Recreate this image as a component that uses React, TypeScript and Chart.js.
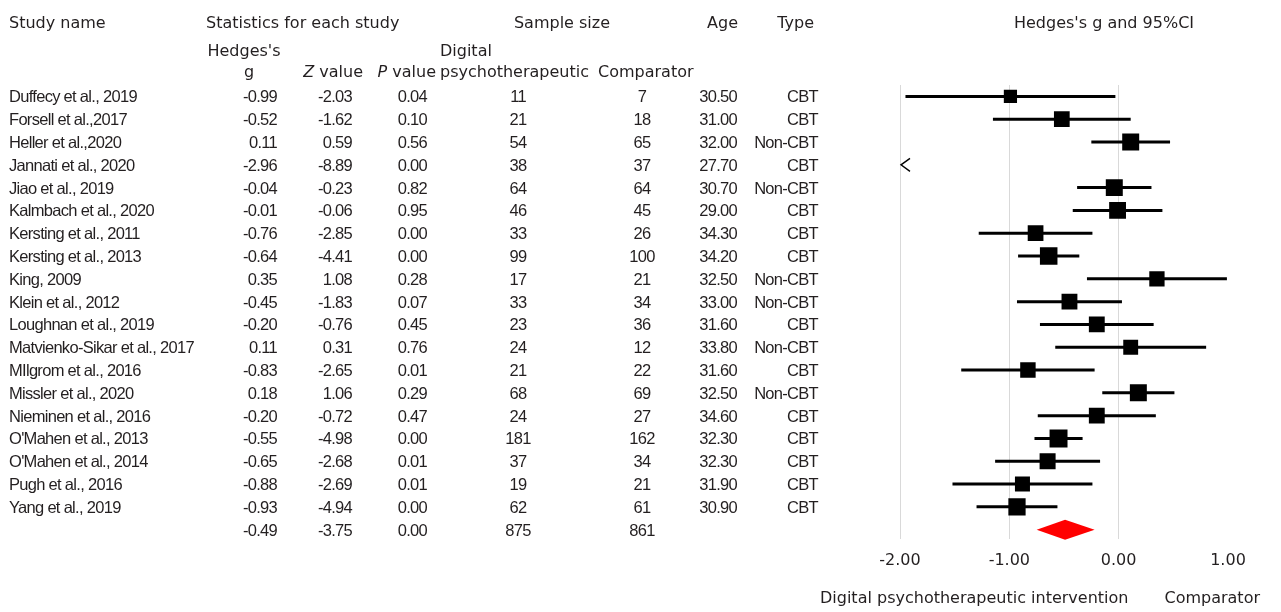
import { useEffect, useRef } from "react";
import { Chart, registerables } from "chart.js";

Chart.register(...registerables);

const studies = [
  "Duffecy et al., 2019",
  "Forsell et al.,2017",
  "Heller et al.,2020",
  "Jannati et al., 2020",
  "Jiao et al., 2019",
  "Kalmbach et al., 2020",
  "Kersting et al., 2011",
  "Kersting et al., 2013",
  "King, 2009",
  "Klein et al., 2012",
  "Loughnan et al., 2019",
  "Matvienko-Sikar et al., 2017",
  "MIlgrom et al., 2016",
  "Missler et al., 2020",
  "Nieminen et al., 2016",
  "O'Mahen et al., 2013",
  "O'Mahen et al., 2014",
  "Pugh et al., 2016",
  "Yang et al., 2019",
];
const hedgesG = [-0.99, -0.52, 0.11, -2.96, -0.04, -0.01, -0.76, -0.64, 0.35, -0.45, -0.2, 0.11, -0.83, 0.18, -0.2, -0.55, -0.65, -0.88, -0.93];
const zValues = [-2.03, -1.62, 0.59, -8.89, -0.23, -0.06, -2.85, -4.41, 1.08, -1.83, -0.76, 0.31, -2.65, 1.06, -0.72, -4.98, -2.68, -2.69, -4.94];
const pValues = [0.04, 0.1, 0.56, 0.0, 0.82, 0.95, 0.0, 0.0, 0.28, 0.07, 0.45, 0.76, 0.01, 0.29, 0.47, 0.0, 0.01, 0.01, 0.0];
const nDigital = [11, 21, 54, 38, 64, 46, 33, 99, 17, 33, 23, 24, 21, 68, 24, 181, 37, 19, 62];
const nComparator = [7, 18, 65, 37, 64, 45, 26, 100, 21, 34, 36, 12, 22, 69, 27, 162, 34, 21, 61];
const ages = [30.5, 31.0, 32.0, 27.7, 30.7, 29.0, 34.3, 34.2, 32.5, 33.0, 31.6, 33.8, 31.6, 32.5, 34.6, 32.3, 32.3, 31.9, 30.9];
const types = ["CBT", "CBT", "Non-CBT", "CBT", "Non-CBT", "CBT", "CBT", "CBT", "Non-CBT", "Non-CBT", "CBT", "Non-CBT", "CBT", "Non-CBT", "CBT", "CBT", "CBT", "CBT", "CBT"];
const ciLower = [-1.95, -1.15, -0.25, -3.61, -0.38, -0.42, -1.28, -0.92, -0.29, -0.93, -0.72, -0.58, -1.44, -0.15, -0.74, -0.77, -1.13, -1.52, -1.3];
const ciUpper = [-0.03, 0.11, 0.47, -2.31, 0.3, 0.4, -0.24, -0.36, 0.99, 0.03, 0.32, 0.8, -0.22, 0.51, 0.34, -0.33, -0.17, -0.24, -0.56];
const weights = [3.0, 4.8, 5.7, 5.0, 5.7, 5.6, 4.8, 6.1, 4.5, 4.9, 4.9, 4.2, 4.6, 5.7, 4.9, 6.4, 5.0, 4.3, 5.9];

const summaryG = -0.49;
const summaryZ = -3.75;
const summaryP = 0.0;
const summaryDigital = 875;
const summaryComparator = 861;
const summaryLower = -0.75;
const summaryUpper = -0.22;

const xTicks = [-2, -1, 0, 1];
const leftLabel = "Digital psychotherapeutic intervention";
const rightLabel = "Comparator";
const plotTitle = "Hedges's g and 95%CI";

const X_MIN = -2;
const X_MAX = 1;
const TEXT = "#231f20";
const HEAD_FONT = "16px 'DejaVu Sans'";
const DATA_FONT = "16.5px 'Liberation Sans'";

const sideFromWeight = (w: number) => 9 + w * 1.4;

const forestPlugin = {
  id: "forest",
  beforeDatasetsDraw(chart: any) {
    const ctx = chart.ctx as CanvasRenderingContext2D;
    const xs = chart.scales.x;
    const ys = chart.scales.y;
    ctx.save();
    ctx.strokeStyle = "#000";
    ctx.lineWidth = 3;
    for (let i = 0; i < studies.length; i++) {
      const y = ys.getPixelForValue(i);
      if (ciUpper[i] < X_MIN) {
        const x0 = xs.getPixelForValue(X_MIN);
        ctx.save();
        ctx.lineWidth = 1.4;
        ctx.beginPath();
        ctx.moveTo(x0 + 10, y - 6.5);
        ctx.lineTo(x0 + 1, y);
        ctx.lineTo(x0 + 10, y + 6.5);
        ctx.stroke();
        ctx.restore();
        continue;
      }
      const a = xs.getPixelForValue(Math.max(ciLower[i], X_MIN));
      const b = xs.getPixelForValue(Math.min(ciUpper[i], X_MAX));
      ctx.beginPath();
      ctx.moveTo(a, y);
      ctx.lineTo(b, y);
      ctx.stroke();
    }
    // summary diamond
    const yS = ys.getPixelForValue(studies.length);
    const l = xs.getPixelForValue(summaryLower);
    const r = xs.getPixelForValue(summaryUpper);
    const c = xs.getPixelForValue(summaryG);
    ctx.fillStyle = "#ff0000";
    ctx.beginPath();
    ctx.moveTo(l, yS);
    ctx.lineTo(c, yS - 10);
    ctx.lineTo(r, yS);
    ctx.lineTo(c, yS + 10);
    ctx.closePath();
    ctx.fill();
    ctx.restore();
  },
  afterDraw(chart: any) {
    const ctx = chart.ctx as CanvasRenderingContext2D;
    const ys = chart.scales.y;
    ctx.save();
    ctx.fillStyle = TEXT;
    ctx.textBaseline = "alphabetic";

    // headers
    (ctx as any).letterSpacing = "0px";
    ctx.font = HEAD_FONT;
    ctx.textAlign = "left";
    ctx.fillText("Study name", 9, 28);
    ctx.fillText("Statistics for each study", 206, 28);
    ctx.textAlign = "center";
    ctx.fillText("Sample size", 562, 28);
    ctx.textAlign = "right";
    ctx.fillText("Age", 738, 28);
    ctx.fillText("Type", 814, 28);
    ctx.textAlign = "center";
    ctx.fillText(plotTitle, 1104, 28);

    ctx.textAlign = "center";
    ctx.fillText("Hedges's", 244, 56);
    ctx.fillText("g", 249, 77);
    ctx.textAlign = "left";
    ctx.fillText("Digital", 440, 56);
    ctx.fillText("psychotherapeutic", 440, 77);
    ctx.fillText("Comparator", 598, 77);

    const italicLabel = (letter: string, rest: string, right: number) => {
      ctx.font = HEAD_FONT;
      const w = ctx.measureText(rest).width;
      ctx.textAlign = "right";
      ctx.fillText(rest, right, 77);
      ctx.font = "italic " + HEAD_FONT;
      ctx.fillText(letter, right - w, 77);
      ctx.font = HEAD_FONT;
    };
    italicLabel("Z", " value", 363);
    italicLabel("P", " value", 436);

    // axis direction labels
    ctx.textAlign = "left";
    ctx.fillText(leftLabel, 820, 603);
    ctx.textAlign = "right";
    ctx.fillText(rightLabel, 1260, 603);

    // data rows
    ctx.font = DATA_FONT;
    (ctx as any).letterSpacing = "-0.7px";
    const row = (i: number, cells: (string | null)[]) => {
      const y = ys.getPixelForValue(i) + 6;
      const [name, g, z, p, nd, nc, age, type] = cells;
      if (name) {
        ctx.textAlign = "left";
        ctx.fillText(name, 9, y);
      }
      ctx.textAlign = "right";
      if (g) ctx.fillText(g, 277, y);
      if (z) ctx.fillText(z, 352, y);
      if (p) ctx.fillText(p, 427, y);
      ctx.textAlign = "center";
      if (nd) ctx.fillText(nd, 518, y);
      if (nc) ctx.fillText(nc, 642, y);
      ctx.textAlign = "right";
      if (age) ctx.fillText(age, 737, y);
      if (type) ctx.fillText(type, 818, y);
    };
    for (let i = 0; i < studies.length; i++) {
      row(i, [
        studies[i],
        hedgesG[i].toFixed(2),
        zValues[i].toFixed(2),
        pValues[i].toFixed(2),
        String(nDigital[i]),
        String(nComparator[i]),
        ages[i].toFixed(2),
        types[i],
      ]);
    }
    row(studies.length, [
      null,
      summaryG.toFixed(2),
      summaryZ.toFixed(2),
      summaryP.toFixed(2),
      String(summaryDigital),
      String(summaryComparator),
      null,
      null,
    ]);
    ctx.restore();
  },
};

export default function App() {
  const ref = useRef<HTMLCanvasElement | null>(null);
  useEffect(() => {
    if (!ref.current) return;
    const idx = studies.map((_, i) => i).filter((i) => hedgesG[i] >= X_MIN && hedgesG[i] <= X_MAX);
    const chart = new Chart(ref.current, {
      type: "scatter",
      data: {
        datasets: [
          {
            label: "Hedges's g",
            data: idx.map((i) => ({ x: hedgesG[i], y: i })),
            pointStyle: "rect",
            pointRadius: idx.map((i) => sideFromWeight(weights[i]) / (2 * Math.SQRT1_2)),
            backgroundColor: "#000",
            borderColor: "#000",
            borderWidth: 0,
          },
        ],
      },
      options: {
        animation: false,
        responsive: true,
        maintainAspectRatio: false,
        events: [],
        layout: { padding: { left: 900, right: 1281 - 1228, top: 85, bottom: 30 } },
        plugins: { legend: { display: false }, tooltip: { enabled: false }, title: { display: false } },
        scales: {
          x: {
            type: "linear",
            min: X_MIN,
            max: X_MAX,
            afterBuildTicks: (axis: any) => {
              axis.ticks = xTicks.map((v) => ({ value: v }));
            },
            ticks: {
              padding: 12,
              color: TEXT,
              font: { family: "'DejaVu Sans'", size: 16 },
              callback: (v: any) => Number(v).toFixed(2),
            },
            grid: {
              drawTicks: false,
              color: (c: any) => (c.tick && c.tick.value === X_MAX ? "rgba(0,0,0,0)" : "#d9d9d9"),
              lineWidth: 1,
            },
            border: { display: false },
          },
          y: {
            type: "linear",
            display: false,
            reverse: true,
            min: -0.5,
            max: studies.length + 0.4,
          },
        },
      },
      plugins: [forestPlugin],
    });
    return () => chart.destroy();
  }, []);
  return (
    <div style={{ position: "fixed", left: 0, top: 0, width: 1281, height: 612, background: "#fff" }}>
      <canvas ref={ref} />
    </div>
  );
}
